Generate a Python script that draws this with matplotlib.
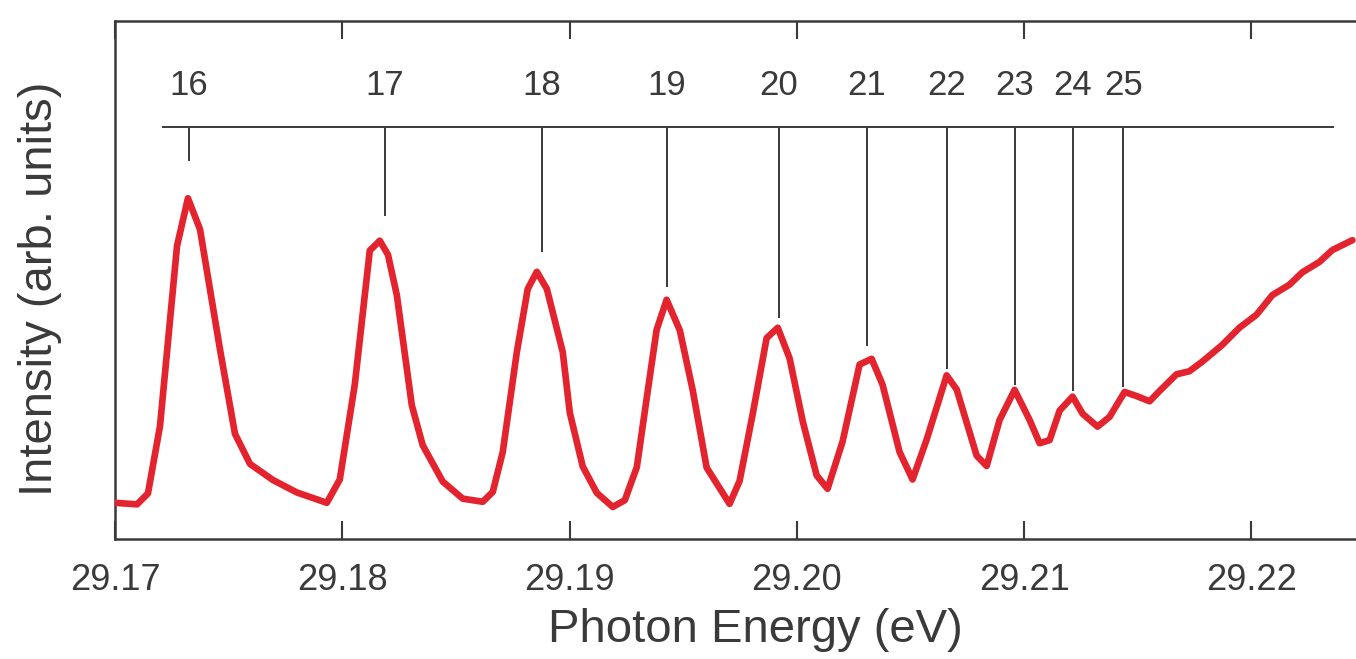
import matplotlib
matplotlib.use("Agg")
import matplotlib.pyplot as plt

plt.rcParams["font.family"] = ["Liberation Sans", "DejaVu Sans"]

RED = "#e3242e"
INK = "#3a3a3a"

# photoabsorption spectrum near the Rydberg series limit
energy = [29.17000, 29.17097, 29.17145, 29.17198, 29.17273, 29.17321, 29.17374,
          29.17462, 29.17528, 29.17594, 29.17695, 29.17800, 29.17932, 29.17989,
          29.18055, 29.18121, 29.18165, 29.18201, 29.18240, 29.18306, 29.18354,
          29.18442, 29.18530, 29.18618, 29.18662, 29.18706, 29.18768, 29.18816,
          29.18856, 29.18900, 29.18970, 29.19001, 29.19058, 29.19120, 29.19190,
          29.19243, 29.19296, 29.19340, 29.19383, 29.19427, 29.19485, 29.19542,
          29.19603, 29.19704, 29.19748, 29.19806, 29.19867, 29.19916, 29.19968,
          29.20026, 29.20087, 29.20135, 29.20201, 29.20276, 29.20329, 29.20377,
          29.20452, 29.20509, 29.20571, 29.20659, 29.20703, 29.20791, 29.20835,
          29.20892, 29.20958, 29.21024, 29.21068, 29.21112, 29.21156, 29.21213,
          29.21257, 29.21323, 29.21376, 29.21442, 29.21495, 29.21552, 29.21596,
          29.21670, 29.21727, 29.21785, 29.21872, 29.21947, 29.22022, 29.22092,
          29.22167, 29.22224, 29.22299, 29.22356, 29.22444]
intensity = [7.0, 6.7, 8.8, 21.8, 56.6, 65.8, 59.8,
             36.6, 20.3, 14.5, 11.4, 9.0, 7.0, 11.5,
             29.8, 55.7, 57.6, 54.9, 47.1, 25.8, 18.1,
             11.1, 7.8, 7.2, 9.1, 16.8, 36.1, 48.3,
             51.6, 48.3, 36.1, 24.4, 14.0, 8.9, 6.2,
             7.5, 13.9, 27.4, 40.4, 46.2, 40.3, 28.7,
             13.8, 6.8, 11.2, 24.2, 38.8, 40.8, 34.9,
             22.7, 12.3, 9.7, 18.8, 33.7, 34.8, 29.8,
             16.8, 11.5, 19.2, 31.6, 28.9, 16.1, 14.1,
             23.0, 28.8, 23.0, 18.5, 19.1, 24.8, 27.5,
             24.2, 21.7, 23.6, 28.4, 27.6, 26.6, 28.6,
             31.8, 32.4, 34.3, 37.5, 40.8, 43.3, 47.1,
             49.1, 51.5, 53.5, 55.8, 57.7]

# assigned members of the series: quantum number, position, marker foot
n_levels = [16, 17, 18, 19, 20, 21, 22, 23, 24, 25]
n_energy = [29.17325, 29.18187, 29.18878, 29.19427, 29.19920,
            29.20307, 29.20659, 29.20958, 29.21213, 29.21437]
n_foot = [73.0, 62.4, 55.4, 48.6, 42.7, 37.2, 32.8, 29.7, 28.5, 29.3]
comb_y = 79.6
comb_span = (29.17207, 29.22365)
label_y = 85.7

xticks = [29.17, 29.18, 29.19, 29.20, 29.21, 29.22]
xtick_labels = ["29.17", "29.18", "29.19", "29.20", "29.21", "29.22"]

fig = plt.figure(figsize=(13.56, 6.59), dpi=100)
ax = fig.add_axes([0.0848, 0.182, 0.9152, 0.786])

ax.plot(energy, intensity, color=RED, lw=4.8, solid_joinstyle="round",
        solid_capstyle="round", zorder=3)

# assignment comb
ax.hlines(comb_y, *comb_span, color=INK, lw=1.4)
ax.vlines(n_energy, n_foot, comb_y, color=INK, lw=1.4)
for n, e in zip(n_levels, n_energy):
    ax.text(e, label_y, str(n), ha="center", va="baseline", fontsize=25, color=INK)

ax.set_xlim(29.17, 29.2246)
ax.set_ylim(0, 100)
ax.set_xticks(xticks)
ax.set_xticklabels(xtick_labels)
ax.set_yticks([])
ax.tick_params(axis="x", direction="in", top=True, length=13, width=1.5,
               color=INK, labelsize=26, labelcolor=INK, pad=17)
for side in ("left", "bottom", "top"):
    ax.spines[side].set_color(INK)
    ax.spines[side].set_linewidth(1.8)
ax.spines["right"].set_visible(False)

ax.set_xlabel("Photon Energy (eV)", fontsize=34, color=INK)
ax.set_ylabel("Intensity (arb. units)", fontsize=34, color=INK)
ax.xaxis.set_label_coords(0.516, -0.133)
ax.yaxis.set_label_coords(-0.043, 0.483)

fig.savefig("out.png", dpi=100)
